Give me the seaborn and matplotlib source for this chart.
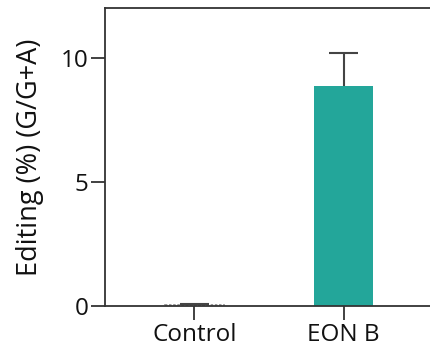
import matplotlib
matplotlib.use("Agg")
import matplotlib.pyplot as plt
import seaborn as sns
import pandas as pd

sns.set_theme(style="ticks")
plt.rcParams["font.family"] = ["Open Sans", "DejaVu Sans"]

groups = ["Control", "EON B"]
editing = [0.05, 8.87]
editing_sd = [0.05, 1.30]
bar_colors = ["#f2f2f2", "#23a69a"]

df = pd.DataFrame({"group": groups, "editing": editing})

fig = plt.figure(figsize=(4.31, 3.51), dpi=100)
ax = fig.add_axes([105 / 431, 45 / 351, 328 / 431, 298 / 351])

sns.barplot(data=df, x="group", y="editing", hue="group", palette=bar_colors,
            width=0.4, saturation=1, legend=False, errorbar=None, ax=ax)

# upper-only error bars: stem from the bar top plus a cap
for i, (v, e) in enumerate(zip(editing, editing_sd)):
    ax.vlines(i, v, v + e, color="#444444", linewidth=1.5, zorder=3)
    ax.hlines(v + e, i - 0.1, i + 0.1, color="#444444", linewidth=1.5, zorder=3)

ctrl = ax.patches[0]
ctrl.set_edgecolor("#888888")
ctrl.set_linestyle((0, (1.5, 1)))
ctrl.set_linewidth(1.2)
for p in ax.patches[1:]:
    p.set_edgecolor("none")

ax.set_xlim(-0.6, 1.6)
ax.set_ylim(0, 12)
ax.set_yticks([0, 5, 10])
ax.set_xlabel("")
ax.set_ylabel("Editing (%) (G/G+A)", fontsize=19.5, color="#111111", labelpad=12)

for side in ["left", "bottom", "top"]:
    ax.spines[side].set_color("#333333")
    ax.spines[side].set_linewidth(1.3)
ax.spines["right"].set_visible(False)

ax.tick_params(axis="both", length=10, width=1.3, color="#333333",
               labelsize=17.5, labelcolor="#111111", pad=2)

fig.savefig("out.png", dpi=100)
